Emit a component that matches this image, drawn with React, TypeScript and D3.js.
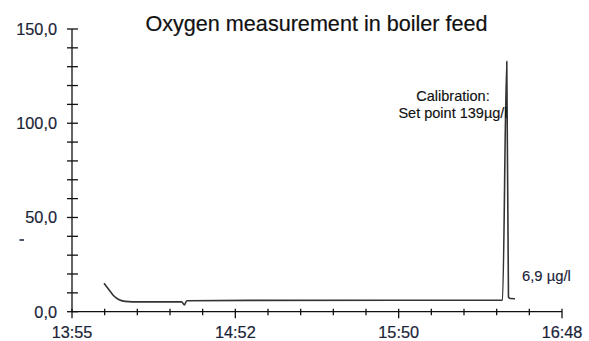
import React from "react";
import * as d3 from "d3";

const times: number[] = [11.3, 13.4, 14.8, 16.3, 18.7, 24, 38.7, 39.7, 40.5, 62.9, 115.8, 152.0, 153.5, 154.1, 154.7, 156.4];
const values: number[] = [15.1, 11.0, 8.3, 6.6, 5.5, 5.2, 5.2, 3.6, 5.8, 6.0, 6.1, 6.1, 132.8, 7.8, 7.0, 6.9];
const xTickLabels: string[] = ["13:55", "14:52", "15:50", "16:48"];
const totalMinutes = 173;
const yMax = 150;
const titleText = "Oxygen measurement in boiler feed";
const calibLines: string[] = ["Calibration:", "Set point 139µg/l"];
const endLabel = "6,9 µg/l";

export default function App() {
  const W = 589, H = 341;
  const left = 72, right = 562, top = 29, bottom = 311.7;
  const x = d3.scaleLinear().domain([0, totalMinutes]).range([left, right]);
  const y = d3.scaleLinear().domain([0, yMax]).range([bottom, top]);
  const pts: [number, number][] = times.map((t, i) => [t, values[i]]);
  const line = d3.line<[number, number]>().x(d => x(d[0])).y(d => y(d[1])).curve(d3.curveMonotoneX);
  const yTicks = d3.range(0, yMax + 1, 10);
  const xTicks = d3.range(0, 16).map(i => (i * totalMinutes) / 15);
  const font = "'Liberation Sans', Arial, sans-serif";
  const labelColor = "#1a2438";
  return (
    <svg width={W} height={H} style={{ position: "absolute", left: 0, top: 0, background: "#fff" }} fontFamily={font}>
      <text x={316.5} y={31} textAnchor="middle" fontSize={21.6} fill="#111" stroke="#111" strokeWidth={0.2}>{titleText}</text>
      <line x1={left} x2={left} y1={top} y2={bottom} stroke="#111" strokeWidth={1.3} />
      <line x1={left} x2={right} y1={bottom} y2={bottom} stroke="#111" strokeWidth={1.3} />
      {yTicks.map(v => (
        <g key={"y" + v}>
          <line x1={left - 5} x2={left + 6} y1={y(v)} y2={y(v)} stroke="#111" strokeWidth={1.3} />
          {v % 50 === 0 && (
            <text x={57} y={y(v) + 6} textAnchor="end" fontSize={16.3} fill={labelColor} stroke={labelColor} strokeWidth={0.2}>
              {d3.format(".1f")(v).replace(".", ",")}
            </text>
          )}
        </g>
      ))}
      {xTicks.map((t, i) => (
        <g key={"x" + i}>
          <line x1={x(t)} x2={x(t)} y1={bottom - 3} y2={bottom + (i % 5 === 0 ? 6.5 : 3.5)} stroke="#111" strokeWidth={1.3} />
          {i % 5 === 0 && (
            <text x={x(t)} y={338} textAnchor="middle" fontSize={16.3} fill={labelColor} stroke={labelColor} strokeWidth={0.2}>
              {xTickLabels[i / 5]}
            </text>
          )}
        </g>
      ))}
      <rect x={19.5} y={239} width={4.5} height={2} fill="#4a5566" />
      <path d={line(pts) || ""} fill="none" stroke="#333" strokeWidth={1.6} strokeLinejoin="round" />
      {calibLines.map((s, i) => (
        <text key={s} x={453} y={101 + i * 17} textAnchor="middle" fontSize={14.5} fill="#111" stroke="#111" strokeWidth={0.15}>{s}</text>
      ))}
      <text x={522} y={281} fontSize={14.8} fill={labelColor} stroke={labelColor} strokeWidth={0.15}>{endLabel}</text>
    </svg>
  );
}
